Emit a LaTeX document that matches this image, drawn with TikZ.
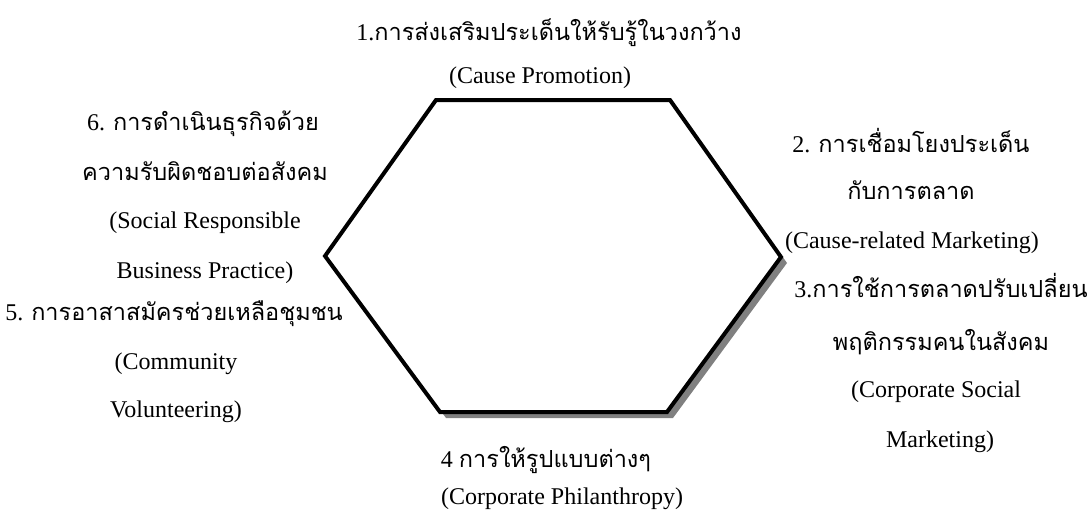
\documentclass[tikz,border=0pt]{standalone}
\usepackage{fontspec}
\setmainfont{Liberation Serif}
\newfontfamily\thaifont[Script=Thai]{Loma}
\newcommand{\thtxt}[1]{{\thaifont\fontsize{23.5}{28}\selectfont #1}}
\definecolor{shadowgray}{RGB}{128,128,128}
\begin{document}
\begin{tikzpicture}[x=1pt,y=-1pt,
  lat/.style={font=\fontsize{24}{28}\selectfont, inner sep=0pt, anchor=center},
  thai/.style={font=\fontsize{24}{28}\selectfont, inner sep=0pt, anchor=base},
  hexline/.style={line width=4pt, line join=miter, fill=white, draw=black},
  hexshadow/.style={fill=shadowgray}]
\useasboundingbox (0,0) rectangle (1088,517);
% hexagon
\coordinate (v1) at (436,100);
\coordinate (v2) at (670,100);
\coordinate (v3) at (781,257);
\coordinate (v4) at (667,412);
\coordinate (v5) at (440,412);
\coordinate (v6) at (325,256);
\fill[hexshadow] ([shift={(6,6)}]v1) -- ([shift={(6,6)}]v2) -- ([shift={(6,6)}]v3) -- ([shift={(6,6)}]v4) -- ([shift={(6,6)}]v5) -- ([shift={(6,6)}]v6) -- cycle;
\draw[hexline] (v1) -- (v2) -- (v3) -- (v4) -- (v5) -- (v6) -- cycle;
% 1 top
\node[thai] (t1a) at (549,40) {1.\thtxt{การส่งเสริมประเด็นให้รับรู้ในวงกว้าง}};
\node[lat] (t1b) at (540,78) {(Cause Promotion)};
% 6 left top
\node[thai] (t6a) at (203,130) {6. \thtxt{การดำเนินธุรกิจด้วย}};
\node[thai] (t6b) at (205,180) {\thtxt{ความรับผิดชอบต่อสังคม}};
\node[lat] (t6c) at (205,223) {(Social Responsible};
\node[lat] (t6d) at (205,273) {Business Practice)};
% 5 left bottom
\node[thai] (t5a) at (174,320) {5. \thtxt{การอาสาสมัครช่วยเหลือชุมชน}};
\node[lat] (t5b) at (176,364) {(Community};
\node[lat] (t5c) at (176,412) {Volunteering)};
% 2 right top
\node[thai] (t2a) at (911,152) {2. \thtxt{การเชื่อมโยงประเด็น}};
\node[thai] (t2b) at (911,199) {\thtxt{กับการตลาด}};
\node[lat] (t2c) at (912,243) {(Cause-related Marketing)};
% 3 right bottom
\node[thai] (t3a) at (941,297) {3.\thtxt{การใช้การตลาดปรับเปลี่ยน}};
\node[thai] (t3b) at (941,350) {\thtxt{พฤติกรรมคนในสังคม}};
\node[lat] (t3c) at (936,392) {(Corporate Social};
\node[lat] (t3d) at (940,442) {Marketing)};
% 4 bottom
\node[thai] (t4a) at (546,467) {4 \thtxt{การให้รูปแบบต่างๆ}};
\node[lat] (t4b) at (562,499) {(Corporate Philanthropy)};
\end{tikzpicture}
\end{document}
